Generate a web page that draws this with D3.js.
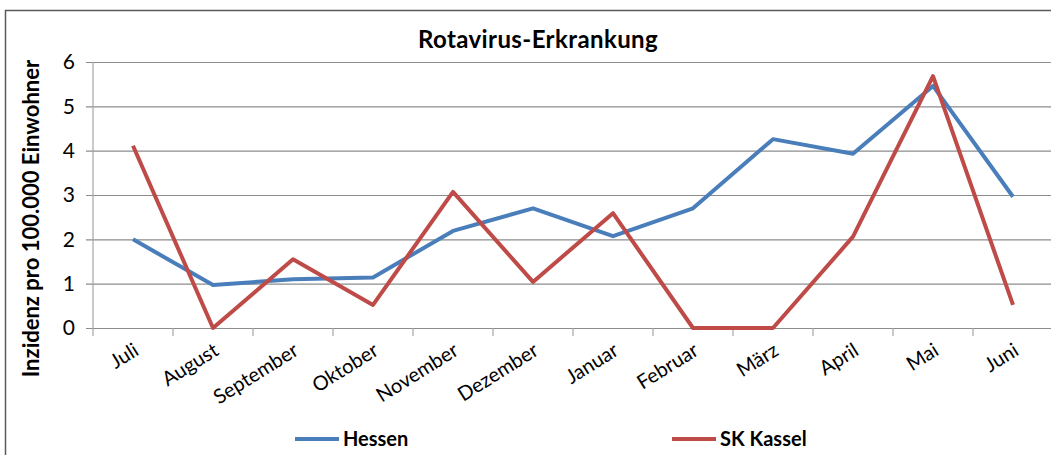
<!DOCTYPE html>
<html>
<head>
<meta charset="utf-8">
<script src="https://cdn.jsdelivr.net/npm/d3@7"></script>
<style>
  body { margin: 0; background: #fff; }
  text { font-family: Lato, "Open Sans", sans-serif; fill: #000; }
</style>
</head>
<body>
<svg id="chart" width="1051" height="455"></svg>
<script>
// data
var months = ["Juli", "August", "September", "Oktober", "November", "Dezember",
              "Januar", "Februar", "März", "April", "Mai", "Juni"];
var hessen = [2.0, 0.97, 1.1, 1.14, 2.19, 2.7, 2.07, 2.7, 4.26, 3.93, 5.46, 2.96];
var kassel = [4.11, 0, 1.55, 0.52, 3.07, 1.04, 2.59, 0, 0, 2.06, 5.68, 0.52];
var yTicks = [0, 1, 2, 3, 4, 5, 6];

var svg = d3.select("#chart");

// chart frame
svg.append("path")
    .attr("d", "M5.5,460 V10.5 H1060")
    .attr("fill", "none")
    .attr("stroke", "#5a5a5a")
    .attr("stroke-width", 1.5);

var pLeft = 93, pRight = 1053, pTop = 62, pBottom = 328;

var x = d3.scaleBand().domain(months).range([pLeft, pRight]);
var y = d3.scaleLinear().domain([0, 6]).range([pBottom, pTop]);

// gridlines + y labels
var yAxis = d3.axisLeft(y)
    .tickValues(yTicks)
    .tickSize(-(1051 - 86))
    .tickPadding(14)
    .tickFormat(d3.format("d"));

var gy = svg.append("g")
    .attr("transform", "translate(86,0)")
    .call(yAxis);
gy.select(".domain").remove();
gy.selectAll(".tick line").attr("stroke", "#8c8c8c").attr("stroke-width", 1.2);
gy.selectAll(".tick text")
    .attr("x", -11)
    .style("font-size", "21px")
    .style("font-family", "Lato, sans-serif")
    .attr("fill", "#000");

// y axis line
svg.append("line")
    .attr("x1", pLeft).attr("x2", pLeft)
    .attr("y1", pTop).attr("y2", pBottom + 8)
    .attr("stroke", "#a6a6a6")
    .attr("stroke-width", 1.2);

// x tick marks at band edges
svg.append("g").selectAll("line")
    .data(months.slice(1))
    .join("line")
    .attr("x1", d => x(d)).attr("x2", d => x(d))
    .attr("y1", pBottom).attr("y2", pBottom + 8)
    .attr("stroke", "#a6a6a6")
    .attr("stroke-width", 1.2);

// x labels
svg.append("g").selectAll("text")
    .data(months)
    .join("text")
    .attr("transform", d => "translate(" + (x(d) + x.bandwidth() / 2 + 7) + "," + (pBottom + 26) + ") rotate(-32)")
    .attr("text-anchor", "end")
    .style("font-size", "20px")
    .text(d => d);

// lines
var line = d3.line()
    .x((d, i) => x(months[i]) + x.bandwidth() / 2)
    .y(d => y(d));

var series = [
    {name: "Hessen", values: hessen, color: "#4a7ebb"},
    {name: "SK Kassel", values: kassel, color: "#be4b48"}
];

svg.append("g").selectAll("path")
    .data(series)
    .join("path")
    .attr("d", d => line(d.values))
    .attr("fill", "none")
    .attr("stroke", d => d.color)
    .attr("stroke-width", 4)
    .attr("stroke-linejoin", "round");

// title
svg.append("text")
    .attr("x", 538).attr("y", 48)
    .attr("text-anchor", "middle")
    .style("font-size", "24px")
    .style("font-weight", "bold")
    .style("letter-spacing", "0.4px")
    .text("Rotavirus-Erkrankung");

// y title
svg.append("text")
    .attr("transform", "translate(39," + ((pTop + 375) / 2) + ") rotate(-90)")
    .attr("text-anchor", "middle")
    .style("font-size", "22px")
    .style("font-weight", "bold")
    .text("Inzidenz pro 100.000 Einwohner");

// legend
var legX = [295, 672];
var leg = svg.append("g").selectAll("g")
    .data(series)
    .join("g")
    .attr("transform", (d, i) => "translate(" + legX[i] + ",439)");
leg.append("line")
    .attr("x1", 0).attr("x2", 44)
    .attr("stroke", d => d.color)
    .attr("stroke-width", 4);
leg.append("text")
    .attr("x", 48).attr("y", 7)
    .style("font-size", "20px")
    .style("font-weight", "bold")
    .text(d => d.name);
</script>
</body>
</html>
